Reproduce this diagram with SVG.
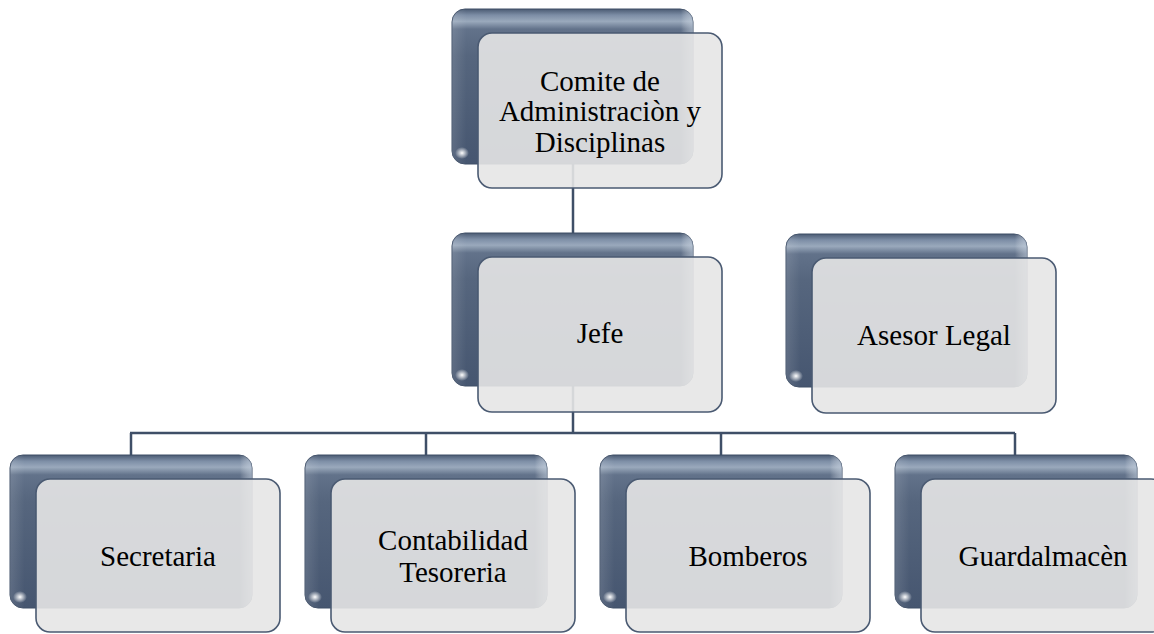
<svg xmlns="http://www.w3.org/2000/svg" width="1154" height="634" viewBox="0 0 1154 634">
<defs>
<linearGradient id="backV" x1="0" y1="0" x2="0" y2="1">
<stop offset="0" stop-color="#4b5b73"/>
<stop offset="0.04" stop-color="#7d8ea6"/>
<stop offset="0.08" stop-color="#9aa9bc"/>
<stop offset="0.13" stop-color="#62728a"/>
<stop offset="0.3" stop-color="#56667e"/>
<stop offset="1" stop-color="#465670"/>
</linearGradient>
<linearGradient id="backH" x1="0" y1="0" x2="1" y2="0">
<stop offset="0" stop-color="#ffffff" stop-opacity="0.12"/>
<stop offset="0.06" stop-color="#ffffff" stop-opacity="0"/>
<stop offset="0.95" stop-color="#ffffff" stop-opacity="0"/>
<stop offset="1" stop-color="#c8d4e2" stop-opacity="0.55"/>
</linearGradient>
<radialGradient id="blob">
<stop offset="0" stop-color="#ffffff" stop-opacity="1"/>
<stop offset="1" stop-color="#ffffff" stop-opacity="0"/>
</radialGradient>
<style>
.back{fill:url(#backV);stroke:#3f4f67;stroke-width:1}
.sheen{fill:url(#backH)}
.blob{fill:url(#blob)}
.front{fill:#e6e6e6;fill-opacity:0.9;stroke:#4a5a72;stroke-width:1.6}
.conn{fill:none;stroke:#3f4f67;stroke-width:2.5}
text{font-family:"Liberation Serif","Times New Roman",serif;font-size:29px;fill:#000;text-anchor:middle}
</style>
</defs>
<g id="connectors">
<path class="conn" d="M573 100 V260"/>
<path class="conn" d="M573 330 V433"/>
<path class="conn" d="M130 433 H1015"/>
<path class="conn" d="M131 433 V470"/>
<path class="conn" d="M426 433 V470"/>
<path class="conn" d="M721 433 V470"/>
<path class="conn" d="M1015 433 V470"/>
</g>
<g id="node-comite">
<rect class="back" x="452" y="9" width="241" height="155" rx="13"/>
<rect class="sheen" x="452" y="9" width="241" height="155" rx="13"/>
<ellipse class="blob" cx="462" cy="153" rx="7" ry="6"/>
<rect class="front" x="478" y="33" width="244" height="155" rx="14"/>
<text x="600" y="91">Comite de</text>
<text x="600" y="121">Administraciòn y</text>
<text x="600" y="152">Disciplinas</text>
</g>
<g id="node-jefe">
<rect class="back" x="452" y="233" width="241" height="153" rx="13"/>
<rect class="sheen" x="452" y="233" width="241" height="153" rx="13"/>
<ellipse class="blob" cx="462" cy="375" rx="7" ry="6"/>
<rect class="front" x="478" y="257" width="244" height="155" rx="14"/>
<text x="600" y="343">Jefe</text>
</g>
<g id="node-asesor">
<rect class="back" x="786" y="234" width="241" height="153" rx="13"/>
<rect class="sheen" x="786" y="234" width="241" height="153" rx="13"/>
<ellipse class="blob" cx="796" cy="376" rx="7" ry="6"/>
<rect class="front" x="812" y="258" width="244" height="155" rx="14"/>
<text x="934" y="345">Asesor Legal</text>
</g>
<g id="node-secretaria">
<rect class="back" x="10" y="455" width="242" height="153" rx="13"/>
<rect class="sheen" x="10" y="455" width="242" height="153" rx="13"/>
<ellipse class="blob" cx="20" cy="597" rx="7" ry="6"/>
<rect class="front" x="36" y="479" width="244" height="153" rx="14"/>
<text x="158" y="566">Secretaria</text>
</g>
<g id="node-contabilidad">
<rect class="back" x="305" y="455" width="242" height="153" rx="13"/>
<rect class="sheen" x="305" y="455" width="242" height="153" rx="13"/>
<ellipse class="blob" cx="315" cy="597" rx="7" ry="6"/>
<rect class="front" x="331" y="479" width="244" height="153" rx="14"/>
<text x="453" y="550">Contabilidad</text>
<text x="453" y="582">Tesoreria</text>
</g>
<g id="node-bomberos">
<rect class="back" x="600" y="455" width="242" height="153" rx="13"/>
<rect class="sheen" x="600" y="455" width="242" height="153" rx="13"/>
<ellipse class="blob" cx="610" cy="597" rx="7" ry="6"/>
<rect class="front" x="626" y="479" width="244" height="153" rx="14"/>
<text x="748" y="566">Bomberos</text>
</g>
<g id="node-guardalmacen">
<rect class="back" x="895" y="455" width="242" height="153" rx="13"/>
<rect class="sheen" x="895" y="455" width="242" height="153" rx="13"/>
<ellipse class="blob" cx="905" cy="597" rx="7" ry="6"/>
<rect class="front" x="921" y="479" width="244" height="153" rx="14"/>
<text x="1043" y="566">Guardalmacèn</text>
</g>
</svg>
